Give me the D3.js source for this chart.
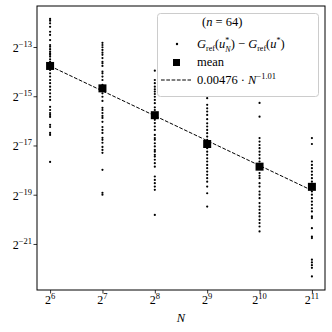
<!DOCTYPE html>
<html>
<head>
<meta charset="utf-8">
<script src="https://cdn.jsdelivr.net/npm/d3@7"></script>
<style>
body { margin: 0; background: #fff; }
svg { display: block; font-family: 'Liberation Serif', 'DejaVu Serif', serif; }
</style>
</head>
<body>
<div id="app"></div>
<script>
// sample sizes (x) and the error samples per N, stored as log2(error)
const N_values = [64, 128, 256, 512, 1024, 2048]
const err_log2_64 = [-11.86, -11.93, -12.04, -12.18, -12.38, -12.51, -12.72, -12.92, -12.99, -13.09, -13.19, -13.26, -13.32, -13.39, -13.50, -13.60, -13.66, -13.73, -13.80, -13.93, -14.07, -14.20, -14.34, -14.47, -14.61, -14.74, -14.88, -15.02, -15.15, -15.43, -15.56, -15.68, -15.76, -15.84, -16.16, -16.25, -16.49, -16.57, -17.67]
const err_log2_128 = [-12.83, -12.92, -13.01, -13.12, -13.23, -13.32, -13.45, -13.60, -13.66, -13.77, -14.00, -14.07, -14.20, -14.34, -14.54, -14.70, -14.88, -15.02, -15.19, -15.47, -15.56, -15.68, -15.80, -15.88, -16.04, -16.25, -16.37, -16.49, -16.69, -16.77, -16.89, -17.06, -17.18, -17.30, -17.99, -18.92, -19.00]
const err_log2_256 = [-13.96, -14.34, -14.47, -14.61, -14.72, -14.81, -14.91, -15.02, -15.15, -15.28, -15.45, -15.56, -15.68, -15.88, -15.96, -16.09, -16.23, -16.37, -16.57, -16.70, -16.77, -16.91, -17.04, -17.18, -17.25, -17.38, -17.45, -17.58, -17.72, -17.86, -18.26, -18.40, -18.53, -18.67, -18.80, -19.82]
const err_log2_512 = [-15.08, -15.35, -15.49, -15.62, -15.76, -15.93, -16.10, -16.23, -16.37, -16.50, -16.64, -16.77, -16.90, -17.11, -17.25, -17.38, -17.52, -17.65, -17.79, -17.92, -18.06, -18.19, -18.33, -18.47, -18.67, -18.94, -19.48]
const err_log2_1024 = [-15.27, -15.83, -16.70, -16.84, -16.98, -17.11, -17.25, -17.38, -17.52, -17.65, -17.86, -18.12, -18.23, -18.33, -18.53, -18.67, -18.87, -19.00, -19.14, -19.34, -19.48, -19.61, -19.75, -19.88, -20.02, -20.15, -20.29, -20.49]
const err_log2_2048 = [-16.70, -16.94, -17.65, -17.79, -17.92, -18.06, -18.19, -18.33, -18.47, -18.68, -18.87, -19.00, -19.14, -19.28, -19.41, -19.55, -19.68, -19.88, -19.95, -20.36, -20.70, -20.76, -21.64, -21.75, -21.86, -21.97, -22.32]
const mean_log2 = [-13.77, -14.68, -15.77, -16.94, -17.86, -18.68]
const fit_coef = 0.00476
const fit_exp = -1.01
const x_tick_exps = [6, 7, 8, 9, 10, 11]
const y_tick_exps = [-13, -15, -17, -19, -21]

const all_errs = [err_log2_64, err_log2_128, err_log2_256, err_log2_512, err_log2_1024, err_log2_2048]
const points = []
all_errs.forEach((arr, i) => arr.forEach(e => points.push({ N: N_values[i], err: 2 ** e })))
const means = N_values.map((N, i) => ({ N: N, err: 2 ** mean_log2[i] }))

const width = 332, height = 332
const m = { left: 37, right: 7, top: 6, bottom: 42 }

const svg = d3.select('#app').append('svg').attr('width', width).attr('height', height)

const x = d3.scaleLog().base(2).domain([2 ** 5.75, 2 ** 11.25]).range([m.left, width - m.right])
const y = d3.scaleLog().base(2).domain([2 ** -22.87, 2 ** -11.335]).range([height - m.bottom, m.top])

// scatter of individual errors
svg.append('g').selectAll('circle').data(points).enter().append('circle')
	.attr('cx', d => x(d.N))
	.attr('cy', d => y(d.err))
	.attr('r', 1.1)
	.attr('fill', '#000')

// fitted power law
const fit_line = d3.line().x(d => x(d)).y(d => y(fit_coef * d ** fit_exp))
svg.append('path')
	.attr('d', fit_line([N_values[0], N_values[N_values.length - 1]]))
	.attr('fill', 'none')
	.attr('stroke', '#000')
	.attr('stroke-width', 1)
	.attr('stroke-dasharray', '3.7,1.6')

// means
svg.append('g').selectAll('rect').data(means).enter().append('rect')
	.attr('x', d => x(d.N) - 4)
	.attr('y', d => y(d.err) - 4)
	.attr('width', 8)
	.attr('height', 8)
	.attr('fill', '#000')

// axes
const y_axis = d3.axisLeft(y).tickValues(y_tick_exps.map(e => 2 ** e)).tickSize(3.5).tickFormat('')
const x_axis = d3.axisBottom(x).tickValues(x_tick_exps.map(e => 2 ** e)).tickSize(3.5).tickFormat('')
svg.append('g').attr('transform', `translate(${m.left},0)`).call(y_axis)
	.call(g => g.select('.domain').remove())
	.selectAll('line').attr('stroke-width', 0.8)
svg.append('g').attr('transform', `translate(0,${height - m.bottom})`).call(x_axis)
	.call(g => g.select('.domain').remove())
	.selectAll('line').attr('stroke-width', 0.8)

y_tick_exps.forEach(e => {
	let t = svg.append('text')
		.attr('x', m.left - 5)
		.attr('y', y(2 ** e) + 5)
		.attr('text-anchor', 'end')
		.attr('font-size', 12)
	t.append('tspan').text('2')
	t.append('tspan').attr('font-size', 8.5).attr('dy', -5).text('\u2212' + Math.abs(e))
})
x_tick_exps.forEach(e => {
	let t = svg.append('text')
		.attr('x', x(2 ** e))
		.attr('y', height - m.bottom + 14)
		.attr('text-anchor', 'middle')
		.attr('font-size', 12)
	t.append('tspan').text('2')
	t.append('tspan').attr('font-size', 8.5).attr('dy', -5).text(e)
})

svg.append('text')
	.attr('x', (m.left + width - m.right) / 2)
	.attr('y', 322)
	.attr('text-anchor', 'middle')
	.attr('font-size', 12.5)
	.attr('font-style', 'italic')
	.text('N')

// frame
svg.append('rect')
	.attr('x', m.left).attr('y', m.top)
	.attr('width', width - m.left - m.right)
	.attr('height', height - m.top - m.bottom)
	.attr('fill', 'none')
	.attr('stroke', '#000')
	.attr('stroke-width', 1)

// legend
const lg = svg.append('g')
lg.append('rect')
	.attr('x', 157.5).attr('y', 13.5)
	.attr('width', 161).attr('height', 83)
	.attr('rx', 3)
	.attr('fill', '#fff').attr('fill-opacity', 0.8)
	.attr('stroke', '#ccc').attr('stroke-width', 1)

function add_math(parent, xpos, ypos, parts) {
	let t = parent.append('text').attr('x', xpos).attr('y', ypos).attr('font-size', 12.5)
	parts.forEach(p => {
		let s = t.append('tspan').text(p.t)
		if (p.i) s.attr('font-style', 'italic')
		if (p.s) s.attr('font-size', p.s)
		if (p.dy) s.attr('dy', p.dy)
		if (p.dx) s.attr('dx', p.dx)
	})
	return t
}

add_math(lg, 202, 26, [{ t: '(' }, { t: 'n', i: 1 }, { t: ' = 64)' }])

lg.append('circle').attr('cx', 177).attr('cy', 44).attr('r', 1.2).attr('fill', '#000')
add_math(lg, 197, 48, [
	{ t: 'G', i: 1 }, { t: 'ref', s: 8, dy: 2.5 }, { t: '(', dy: -2.5 }, { t: 'u', i: 1 },
	{ t: '*', s: 8, dy: -5.5 }, { t: 'N', i: 1, s: 8, dx: -4, dy: 9 }, { t: ')', dy: -3.5 },
	{ t: ' \u2212 ' }, { t: 'G', i: 1 }, { t: 'ref', s: 8, dy: 2.5 }, { t: '(', dy: -2.5 },
	{ t: 'u', i: 1 }, { t: '*', s: 8, dy: -5.5 }, { t: ')', dy: 5.5 }
])

lg.append('rect').attr('x', 173).attr('y', 59).attr('width', 7).attr('height', 7).attr('fill', '#000')
add_math(lg, 197, 66, [{ t: 'mean' }])

lg.append('line').attr('x1', 161).attr('x2', 191).attr('y1', 80).attr('y2', 80)
	.attr('stroke', '#000').attr('stroke-width', 1).attr('stroke-dasharray', '3.7,1.6')
add_math(lg, 197, 84, [
	{ t: '0.00476 \u00b7 ' }, { t: 'N', i: 1 }, { t: '\u22121.01', s: 8.5, dy: -5 }
])
</script>
</body>
</html>
